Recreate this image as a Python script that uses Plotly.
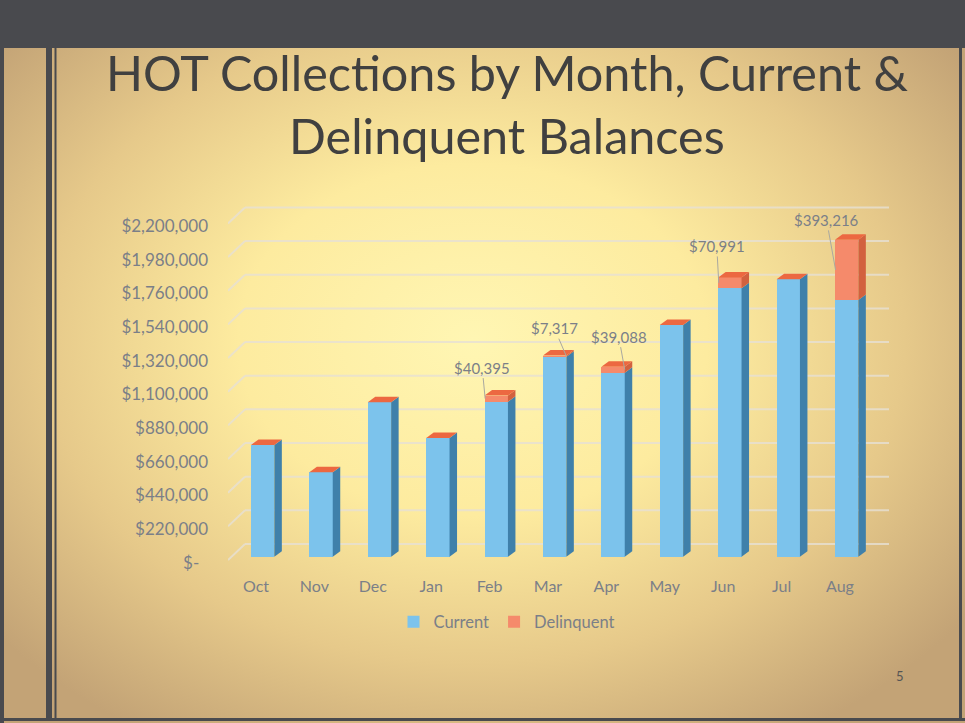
import base64
import plotly.graph_objects as go

# ---------------- data ----------------
months = ["Oct", "Nov", "Dec", "Jan", "Feb", "Mar", "Apr", "May", "Jun", "Jul", "Aug"]
current = [730000, 552000, 1010000, 776000, 1013000, 1307000, 1203000, 1515000, 1754000, 1813000, 1678000]
delinquent = [0, 0, 0, 0, 40395, 7317, 39088, 0, 70991, 0, 393216]
y_tick_vals = [0, 220000, 440000, 660000, 880000, 1100000, 1320000, 1540000, 1760000, 1980000, 2200000]
y_tick_text = ["$-\u00a0\u00a0", "$220,000", "$440,000", "$660,000", "$880,000", "$1,100,000",
               "$1,320,000", "$1,540,000", "$1,760,000", "$1,980,000", "$2,200,000"]

# ---------------- geometry (pixels) ----------------
W, H = 965, 723
L, R, T, B = 228, 76, 190, 160
PW, PH = W - L - R, H - T - B
X_RANGE = [-0.4795, 10.839]
Y_RANGE = [-41180, 2396700]
UX = PW / (X_RANGE[1] - X_RANGE[0])      # px per x unit
UY = PH / (Y_RANGE[1] - Y_RANGE[0])      # px per y unit

BAR_W = 0.4
BAR_OFF = -0.086
DX = 7.5 / UX
DY = 5.5 / UY


def pxx(p):
    return (p - L) / PW


def pxy(p):
    return (H - B - p) / PH


TXT = "#7b7f88"
FONT = "Lato"

x_idx = list(range(len(months)))
totals = [c + d for c, d in zip(current, delinquent)]

fig = go.Figure()
fig.add_trace(go.Bar(x=x_idx, y=current, name="Current", width=BAR_W, offset=BAR_OFF,
                     marker=dict(color="#7cc3ec", line=dict(width=0))))
fig.add_trace(go.Bar(x=x_idx, y=delinquent, name="Delinquent", width=BAR_W, offset=BAR_OFF,
                     marker=dict(color="#f58a6b", line=dict(width=0))))

shapes = []
# back wall gridlines + left diagonal
GRID = "rgba(230,224,212,0.8)"
front_shift = -3.3 / UY
back_x0 = X_RANGE[0] + 17 / UX
for t in y_tick_vals:
    yf = t + front_shift
    yb = yf + 16 / UY
    shapes.append(dict(type="line", xref="x", yref="y", x0=X_RANGE[0], y0=yf, x1=back_x0, y1=yb,
                       line=dict(color=GRID, width=2), layer="below"))
    shapes.append(dict(type="line", xref="x", yref="y", x0=back_x0, y0=yb, x1=X_RANGE[1], y1=yb,
                       line=dict(color=GRID, width=2), layer="below"))

# 3D faces of bars
for i, (c, tot) in enumerate(zip(current, totals)):
    xl = i + BAR_OFF
    xr = xl + BAR_W
    shapes.append(dict(type="path", xref="x", yref="y", layer="above", line=dict(width=0),
                       fillcolor="#3f80aa",
                       path=f"M{xr},0 L{xr+DX},{DY} L{xr+DX},{c+DY} L{xr},{c} Z"))
    if tot > c:
        shapes.append(dict(type="path", xref="x", yref="y", layer="above", line=dict(width=0),
                           fillcolor="#d2613f",
                           path=f"M{xr},{c} L{xr+DX},{c+DY} L{xr+DX},{tot+DY} L{xr},{tot} Z"))
    shapes.append(dict(type="path", xref="x", yref="y", layer="above", line=dict(width=0),
                       fillcolor="#ec6841",
                       path=f"M{xl},{tot} L{xl+DX},{tot+DY} L{xr+DX},{tot+DY} L{xr},{tot} Z"))

# slide frame
DARK = "#494a4e"
shapes += [
    dict(type="rect", xref="paper", yref="paper", x0=pxx(0), x1=pxx(W), y0=pxy(48), y1=pxy(0),
         fillcolor=DARK, line=dict(width=0), layer="above"),
    dict(type="rect", xref="paper", yref="paper", x0=pxx(0), x1=pxx(4), y0=pxy(H), y1=pxy(0),
         fillcolor=DARK, line=dict(width=0), layer="above"),
    dict(type="rect", xref="paper", yref="paper", x0=pxx(46), x1=pxx(52), y0=pxy(720), y1=pxy(48),
         fillcolor=DARK, line=dict(width=0), layer="above"),
    dict(type="rect", xref="paper", yref="paper", x0=pxx(54.5), x1=pxx(56.5), y0=pxy(720), y1=pxy(48),
         fillcolor=DARK, line=dict(width=0), layer="above"),
    dict(type="rect", xref="paper", yref="paper", x0=pxx(0), x1=pxx(W), y0=pxy(721), y1=pxy(718),
         fillcolor=DARK, line=dict(width=0), layer="above"),
    dict(type="rect", xref="paper", yref="paper", x0=pxx(959), x1=pxx(962), y0=pxy(721), y1=pxy(48),
         fillcolor=DARK, line=dict(width=0), layer="above"),
]

# data labels for delinquent balances
label_off = {4: (-3, -31, 0.01), 5: (-12, -28, BAR_W), 6: (-6, -33, BAR_W), 8: (-2, -37, 0.01), 10: (-9, -50, 0.01)}
annotations = []
for i, (axp, ayp, edge) in label_off.items():
    annotations.append(dict(x=i + BAR_OFF + edge, y=current[i] + delinquent[i] / 2, xref="x", yref="y",
                            text=f"${delinquent[i]:,}", showarrow=True, arrowhead=0, arrowwidth=1,
                            arrowcolor="#a9a8a0", standoff=0, ax=axp, ay=ayp,
                            font=dict(family=FONT, size=15, color=TXT)))

# title and page number
TITLE_SIZE = 48.5
annotations.append(dict(xref="paper", yref="paper", x=pxx(507), y=pxy(72), text="HOT Collections by Month, Current &",
                        showarrow=False, xanchor="center", yanchor="middle",
                        font=dict(family=FONT, size=TITLE_SIZE, color="#404040")))
annotations.append(dict(xref="paper", yref="paper", x=pxx(507), y=pxy(135), text="Delinquent Balances",
                        showarrow=False, xanchor="center", yanchor="middle",
                        font=dict(family=FONT, size=TITLE_SIZE, color="#404040")))
annotations.append(dict(xref="paper", yref="paper", x=pxx(900), y=pxy(676), text="5",
                        showarrow=False, xanchor="center", yanchor="middle",
                        font=dict(family=FONT, size=13, color="#555555")))

# background radial gradient
svg = f"""<svg xmlns='http://www.w3.org/2000/svg' width='{W}' height='{H}' viewBox='0 0 {W} {H}' preserveAspectRatio='none'>
<defs><radialGradient id='g' cx='0.49' cy='0.47' r='0.64'>
<stop offset='0' stop-color='#fff6b3'/>
<stop offset='0.38' stop-color='#fdeb9f'/>
<stop offset='0.7' stop-color='#e6c98a'/>
<stop offset='1' stop-color='#c3a376'/>
</radialGradient></defs>
<rect x='0' y='0' width='{W}' height='{H}' fill='url(#g)'/></svg>"""
src = "data:image/svg+xml;base64," + base64.b64encode(svg.encode()).decode()

fig.update_layout(
    width=W, height=H,
    margin=dict(l=L, r=R, t=T, b=B, autoexpand=False),
    paper_bgcolor="#d9bb82", plot_bgcolor="rgba(0,0,0,0)",
    barmode="stack",
    showlegend=True,
    legend=dict(orientation="h", traceorder="normal", x=pxx(507), y=pxy(622), xanchor="center", yanchor="middle",
                font=dict(family=FONT, size=16.5, color=TXT), bgcolor="rgba(0,0,0,0)"),
    images=[dict(source=src, xref="paper", yref="paper", x=pxx(0), y=pxy(0), sizex=W / PW, sizey=H / PH,
                 xanchor="left", yanchor="top", sizing="stretch", layer="below")],
    shapes=shapes,
    annotations=annotations,
    xaxis=dict(range=X_RANGE, tickvals=x_idx, ticktext=months, showgrid=False, zeroline=False,
               showline=False, ticks="", ticklabelstandoff=12,
               tickfont=dict(family=FONT, size=16, color=TXT), fixedrange=True),
    yaxis=dict(range=Y_RANGE, tickvals=y_tick_vals, ticktext=y_tick_text, showgrid=False, zeroline=False,
               showline=False, ticks="", ticklabelstandoff=19, ticklabelshift=6,
               tickfont=dict(family=FONT, size=17, color=TXT), fixedrange=True),
    font=dict(family=FONT),
)

fig.write_html("out.html", config={"displayModeBar": False, "staticPlot": True},
               post_script="document.body.style.margin='0';document.body.style.overflow='hidden';")
